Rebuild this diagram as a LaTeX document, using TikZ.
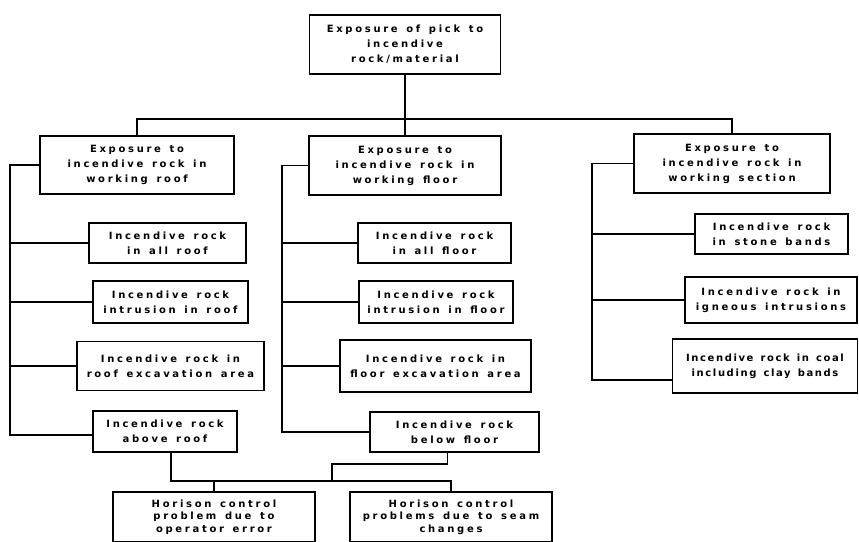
\documentclass[tikz,border=0pt]{standalone}
\usepackage{fontspec}
\setmainfont{DejaVu Sans}[LetterSpace=27,WordSpace=1.4]
\begin{document}
\begin{tikzpicture}[x=1pt,y=-1pt,line width=1.6pt,
    box/.style={draw,align=center,inner sep=0pt,font=\bfseries\fontsize{10}{15}\selectfont},
    lowbox/.style={box,font=\bfseries\fontsize{10}{12.5}\selectfont}]
    \useasboundingbox (0,0) rectangle (859,541);
    \clip (0,0) rectangle (859,541);
    \node[box,minimum width=191,minimum height=59] (top) at (405,44.5) {Exposure of pick to\\incendive\\rock/material};
    \node[box,minimum width=194,minimum height=58] (A) at (137,165) {Exposure to\\incendive rock in\\working roof};
    \node[box,minimum width=192,minimum height=59] (B) at (405,165.5) {Exposure to\\incendive rock in\\working floor};
    \node[box,minimum width=196,minimum height=59] (C) at (732,163.5) {Exposure to\\incendive rock in\\working section};
    \node[box,minimum width=157,minimum height=40] (A1) at (167.5,243) {Incendive rock\\in all roof};
    \node[box,minimum width=155,minimum height=42] (A2) at (170.5,302) {Incendive rock\\intrusion in roof};
    \node[box,minimum width=187,minimum height=49] (A3) at (170.5,366) {Incendive rock in\\roof excavation area};
    \node[box,minimum width=144,minimum height=41] (A4) at (165,431.5) {Incendive rock\\above roof};
    \node[box,minimum width=153,minimum height=40] (B1) at (434.5,243) {Incendive rock\\in all floor};
    \node[box,minimum width=154,minimum height=42] (B2) at (436,302) {Incendive rock\\intrusion in floor};
    \node[box,minimum width=191,minimum height=52] (B3) at (435.5,366) {Incendive rock in\\floor excavation area};
    \node[box,minimum width=169,minimum height=40] (B4) at (454.5,432) {Incendive rock\\below floor};
    \node[box,minimum width=153,minimum height=40] (C1) at (771.5,234) {Incendive rock\\in stone bands};
    \node[box,minimum width=172,minimum height=46] (C2) at (771,300) {Incendive rock in\\igneous intrusions};
    \node[box,minimum width=185,minimum height=54,font=\bfseries\fontsize{10}{15}\selectfont\addfontfeature{LetterSpace=16}] (C3) at (765,366) {Incendive rock in coal\\including clay bands};
    \node[lowbox,minimum width=202,minimum height=50] (D1) at (214,517) {Horison control\\problem due to\\operator error};
    \node[lowbox,minimum width=202,minimum height=50] (D2) at (451,517) {Horison control\\problems due to seam\\changes};
    \coordinate (tbus) at (405,119);
    \coordinate (abus) at (10,0);
    \coordinate (bbus) at (282,0);
    \coordinate (cbus) at (592,0);
    \coordinate (jn) at (332,481);
    \draw (top.south) -- (tbus);
    \draw (A.north) |- (tbus) -| (C.north);
    \draw (tbus) -- (B.north);
    \draw (A.west) -- (A.west -| abus) |- ([yshift=-3.5pt]A4.west);
    \draw (B.west) -- (B.west -| bbus) |- (B4.west);
    \draw (C.west) -- (C.west -| cbus) |- ([yshift=-14pt]C3.west);
    \foreach \n in {A1,A2,A3} \draw (\n.west) -- (\n.west -| abus);
    \foreach \n in {B1,B2,B3} \draw (\n.west) -- (\n.west -| bbus);
    \foreach \n in {C1,C2} \draw (\n.west) -- (\n.west -| cbus);
    \draw ([xshift=6pt]A4.south) |- (jn) -| (D2.north);
    \draw ([xshift=-7pt]B4.south) -- ++(0,11) -| (jn);
    \draw (D1.north) -- (D1.north |- jn);
\end{tikzpicture}
\end{document}
